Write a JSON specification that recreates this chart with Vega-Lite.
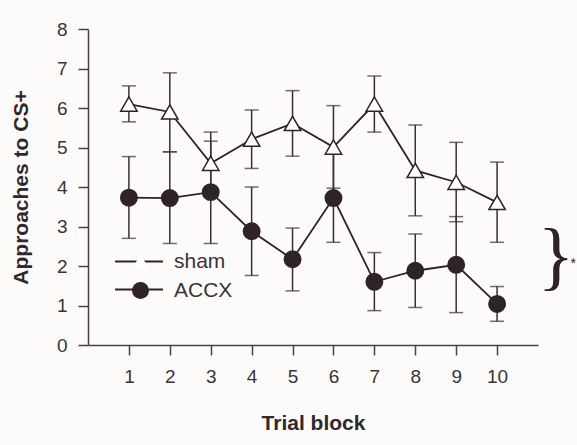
{
  "$schema": "https://vega.github.io/schema/vega-lite/v6.json",
  "width": 450,
  "height": 316,
  "autosize": "none",
  "padding": {"left": 88, "top": 29, "right": 39, "bottom": 100},
  "background": "#fcfbfa",
  "config": {
    "view": {"stroke": null},
    "font": "Liberation Sans",
    "axis": {
      "domainColor": "#4a4046",
      "tickColor": "#4a4046",
      "domainWidth": 1.5,
      "tickWidth": 1.5,
      "tickSize": 10,
      "grid": false,
      "labelOverlap": false,
      "format": "d",
      "labelFont": "Liberation Sans",
      "labelFontSize": 19,
      "labelColor": "#3a3337",
      "titleFont": "Liberation Sans",
      "titleFontSize": 21,
      "titleFontWeight": "bold",
      "titleColor": "#2f282c"
    },
    "axisY": {"tickCount": 20},
    "axisX": {"tickCount": 20}
  },
  "datasets": {
    "main": [
      {"block": 1, "group": "sham", "mean": 6.1, "lo": 5.65, "hi": 6.56},
      {"block": 2, "group": "sham", "mean": 5.9, "lo": 4.89, "hi": 6.89},
      {"block": 3, "group": "sham", "mean": 4.6, "lo": 3.81, "hi": 5.39},
      {"block": 4, "group": "sham", "mean": 5.21, "lo": 4.47, "hi": 5.95},
      {"block": 5, "group": "sham", "mean": 5.61, "lo": 4.78, "hi": 6.44},
      {"block": 6, "group": "sham", "mean": 5.01, "lo": 3.97, "hi": 6.06},
      {"block": 7, "group": "sham", "mean": 6.1, "lo": 5.39, "hi": 6.81},
      {"block": 8, "group": "sham", "mean": 4.42, "lo": 3.27, "hi": 5.57},
      {"block": 9, "group": "sham", "mean": 4.12, "lo": 3.12, "hi": 5.13},
      {"block": 10, "group": "sham", "mean": 3.61, "lo": 2.6, "hi": 4.63},
      {"block": 1, "group": "ACCX", "mean": 3.73, "lo": 2.7, "hi": 4.77},
      {"block": 2, "group": "ACCX", "mean": 3.72, "lo": 2.57, "hi": 4.89},
      {"block": 3, "group": "ACCX", "mean": 3.87, "lo": 2.57, "hi": 5.16},
      {"block": 4, "group": "ACCX", "mean": 2.88, "lo": 1.76, "hi": 4.0},
      {"block": 5, "group": "ACCX", "mean": 2.17, "lo": 1.37, "hi": 2.96},
      {"block": 6, "group": "ACCX", "mean": 3.72, "lo": 2.6, "hi": 4.84},
      {"block": 7, "group": "ACCX", "mean": 1.6, "lo": 0.87, "hi": 2.34},
      {"block": 8, "group": "ACCX", "mean": 1.88, "lo": 0.95, "hi": 2.81},
      {"block": 9, "group": "ACCX", "mean": 2.03, "lo": 0.82, "hi": 3.25},
      {"block": 10, "group": "ACCX", "mean": 1.04, "lo": 0.6, "hi": 1.48}
    ],
    "notes": [
      {"nx": 11.44, "ny": 2.2, "label": "}", "kind": "brace"},
      {"nx": 11.86, "ny": 2.05, "label": "*", "kind": "star"}
    ]
  },
  "layer": [
    {
      "data": {"name": "main"},
      "encoding": {
        "x": {
          "field": "block",
          "type": "quantitative",
          "scale": {"domain": [0, 11], "nice": false, "zero": false},
          "axis": {"values": [1, 2, 3, 4, 5, 6, 7, 8, 9, 10], "tickCount": 20, "format": "d", "title": "Trial block", "labelPadding": 12, "titlePadding": 26, "labelFlush": false}
        }
      },
      "layer": [
        {
          "mark": {"type": "line", "strokeWidth": 1.8},
          "encoding": {
            "y": {"field": "mean", "type": "quantitative", "scale": {"domain": [0, 8], "nice": false},
                  "axis": {"values": [0, 1, 2, 3, 4, 5, 6, 7, 8], "tickCount": 20, "format": "d", "title": "Approaches to CS+", "labelPadding": 11, "titlePadding": 25}},
            "color": {
              "field": "group",
              "type": "nominal",
              "sort": ["sham", "ACCX"],
              "scale": {"range": ["#2f2228", "#2f2228"]},
              "legend": {
                "title": null,
                "orient": "none",
                "legendX": 26,
                "legendY": 222,
                "padding": 0,
                "symbolType": "stroke",
                "symbolSize": 2304,
                "symbolStrokeWidth": 1.8,
                "symbolStrokeColor": "#2f2228",
                "labelExpr": "''",
                "clipHeight": 21,
                "rowPadding": 7
              }
            }
          }
        },
        {
          "mark": {"type": "rule", "color": "#3a2e34", "strokeWidth": 1.5},
          "encoding": {
            "y": {"field": "lo", "type": "quantitative", "axis": {"values": [0, 1, 2, 3, 4, 5, 6, 7, 8], "tickCount": 20, "format": "d", "title": "Approaches to CS+", "labelPadding": 11, "titlePadding": 25}},
            "y2": {"field": "hi"}
          }
        },
        {
          "mark": {"type": "tick", "orient": "horizontal", "color": "#3a2e34", "thickness": 1.5, "size": 14},
          "encoding": {
            "y": {"field": "lo", "type": "quantitative", "axis": {"values": [0, 1, 2, 3, 4, 5, 6, 7, 8], "tickCount": 20, "format": "d", "title": "Approaches to CS+", "labelPadding": 11, "titlePadding": 25}}
          }
        },
        {
          "mark": {"type": "tick", "orient": "horizontal", "color": "#3a2e34", "thickness": 1.5, "size": 14},
          "encoding": {
            "y": {"field": "hi", "type": "quantitative", "axis": {"values": [0, 1, 2, 3, 4, 5, 6, 7, 8], "tickCount": 20, "format": "d", "title": "Approaches to CS+", "labelPadding": 11, "titlePadding": 25}}
          }
        },
        {
          "mark": {"type": "point", "filled": true, "opacity": 1, "stroke": "#2f2228", "strokeWidth": 1.5},
          "encoding": {
            "y": {"field": "mean", "type": "quantitative", "axis": {"values": [0, 1, 2, 3, 4, 5, 6, 7, 8], "tickCount": 20, "format": "d", "title": "Approaches to CS+", "labelPadding": 11, "titlePadding": 25}},
            "shape": {
              "field": "group",
              "type": "nominal",
              "scale": {"domain": ["sham", "ACCX"], "range": ["triangle-up", "circle"]},
              "legend": {
                "title": null,
                "orient": "none",
                "legendX": 42,
                "legendY": 222,
                "padding": 0,
                "symbolSize": 289,
                "symbolStrokeWidth": 1.5,
                "symbolStrokeColor": "#2f2228",
                "symbolOpacity": 1,
                "labelFontSize": 21,
                "labelFont": "Liberation Sans",
                "labelColor": "#3a3337",
                "labelOffset": 23,
                "clipHeight": 21,
                "rowPadding": 7
              }
            },
            "fill": {
              "field": "group",
              "type": "nominal",
              "scale": {"domain": ["sham", "ACCX"], "range": ["#ffffff", "#2f2228"]},
              "legend": null
            },
            "size": {"value": 270}
          }
        }
      ]
    },
    {
      "data": {"name": "notes"},
      "transform": [{"filter": "datum.kind === 'brace'"}],
      "mark": {"type": "text", "font": "Liberation Serif", "fontSize": 76, "align": "center", "baseline": "middle", "color": "#2f2228", "clip": false},
      "encoding": {
        "x": {"field": "nx", "type": "quantitative", "axis": {"values": [1, 2, 3, 4, 5, 6, 7, 8, 9, 10], "tickCount": 20, "format": "d", "title": "Trial block", "labelPadding": 12, "titlePadding": 26, "labelFlush": false}},
        "y": {"field": "ny", "type": "quantitative", "axis": {"values": [0, 1, 2, 3, 4, 5, 6, 7, 8], "tickCount": 20, "format": "d", "title": "Approaches to CS+", "labelPadding": 11, "titlePadding": 25}},
        "text": {"field": "label"}
      }
    },
    {
      "data": {"name": "notes"},
      "transform": [{"filter": "datum.kind === 'star'"}],
      "mark": {"type": "text", "font": "Liberation Sans", "fontSize": 14, "align": "center", "baseline": "middle", "color": "#2f2228", "clip": false},
      "encoding": {
        "x": {"field": "nx", "type": "quantitative", "axis": {"values": [1, 2, 3, 4, 5, 6, 7, 8, 9, 10], "tickCount": 20, "format": "d", "title": "Trial block", "labelPadding": 12, "titlePadding": 26, "labelFlush": false}},
        "y": {"field": "ny", "type": "quantitative", "axis": {"values": [0, 1, 2, 3, 4, 5, 6, 7, 8], "tickCount": 20, "format": "d", "title": "Approaches to CS+", "labelPadding": 11, "titlePadding": 25}},
        "text": {"field": "label"}
      }
    }
  ]
}
